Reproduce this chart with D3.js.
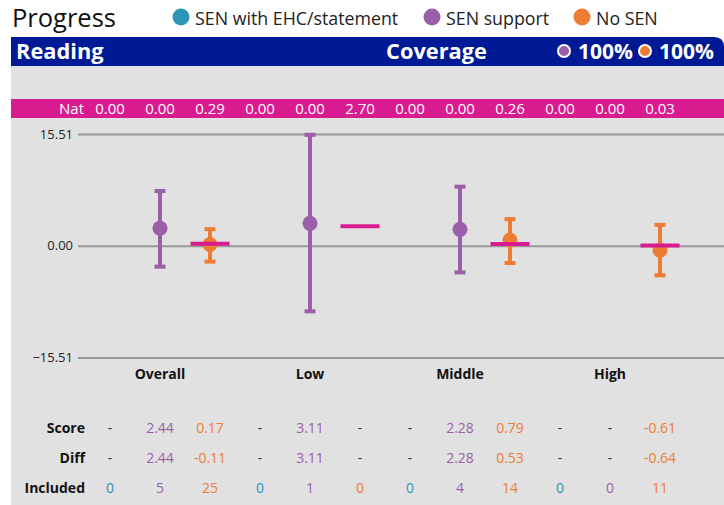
<!DOCTYPE html>
<html>
<head>
<meta charset="utf-8">
<script src="https://cdn.jsdelivr.net/npm/d3@7"></script>
<style>
  body { margin: 0; background: #fff; font-family: "Open Sans", sans-serif; }
</style>
</head>
<body>
<div id="chart"></div>
<script>
// groupes (colonnes) et séries
const groups = ["Overall", "Low", "Middle", "High"]
const series = ["SEN with EHC/statement", "SEN support", "No SEN"]
const colors = ["#2b96b8", "#9b5ea8", "#ef7c34"]

// valeurs nationales, une par colonne (groupe x série)
const natValues = [0.00, 0.00, 0.29, 0.00, 0.00, 2.70, 0.00, 0.00, 0.26, 0.00, 0.00, 0.03]

// score, intervalle (bas, haut) ; null = pas de donnée
const scores = [
  [null, 2.44, 0.17],
  [null, 3.11, null],
  [null, 2.28, 0.79],
  [null, null, -0.61]
]
const lower = [
  [null, -2.9, -2.2],
  [null, -9.1, null],
  [null, -3.7, -2.4],
  [null, null, -4.1]
]
const upper = [
  [null, 7.6, 2.3],
  [null, 15.4, null],
  [null, 8.2, 3.7],
  [null, null, 2.9]
]
const diffs = [
  [null, 2.44, -0.11],
  [null, 3.11, null],
  [null, 2.28, 0.53],
  [null, null, -0.64]
]
const included = [
  [0, 5, 25],
  [0, 1, 0],
  [0, 4, 14],
  [0, 0, 11]
]
const yTicks = [-15.51, 0, 15.51]
const coverage = ["100%", "100%"]

const W = 724, H = 505

const svg = d3.select("#chart").append("svg")
  .attr("width", W)
  .attr("height", H)
  .style("font-family", "'Open Sans', sans-serif")

/* titre + légende */
svg.append("text").attr("x", 12).attr("y", 27)
  .attr("font-size", 25.5).attr("fill", "#111").text("Progress")

const legX = [181, 432, 582]
series.forEach((s, i) => {
  svg.append("circle").attr("cx", legX[i]).attr("cy", 17).attr("r", 8.5).attr("fill", colors[i])
  svg.append("text").attr("x", legX[i] + 14).attr("y", 24.5)
    .attr("font-size", 17.8).attr("fill", "#222").text(s)
})

/* fond gris */
svg.append("rect").attr("x", 11).attr("y", 60).attr("width", W - 11).attr("height", H - 60)
  .attr("fill", "#e1e1e1")

/* bandeau bleu */
svg.append("path")
  .attr("d", `M11,37 H${W - 10} Q${W},37 ${W},47 V66 H11 Z`)
  .attr("fill", "#001a96")
svg.append("text").attr("x", 16).attr("y", 58.5).attr("font-size", 21.8).attr("font-weight", "bold")
  .attr("fill", "#fff").text("Reading")
svg.append("text").attr("x", 386).attr("y", 58.5).attr("font-size", 21.8).attr("font-weight", "bold")
  .attr("fill", "#fff").text("Coverage")
const covX = [564, 645]
coverage.forEach((c, i) => {
  svg.append("circle").attr("cx", covX[i]).attr("cy", 51).attr("r", 6)
    .attr("fill", colors[i + 1]).attr("stroke", "#fff").attr("stroke-width", 2)
  svg.append("text").attr("x", covX[i] + 14).attr("y", 58.5).attr("font-size", 21)
    .attr("font-weight", "bold").attr("fill", "#fff").text(c)
})

/* échelles */
const xGroup = d3.scaleBand().domain(groups).range([85, 685])
const xSeries = d3.scaleBand().domain(series).range([0, xGroup.bandwidth()])
const colX = (gi, si) => xGroup(groups[gi]) + xSeries(series[si]) + xSeries.bandwidth() / 2

const y = d3.scaleLinear().domain([-15.51, 15.51]).range([357.5, 134])

/* barre "Nat" */
svg.append("rect").attr("x", 11).attr("y", 99).attr("width", W - 11).attr("height", 19)
  .attr("fill", "#d81b8f")
svg.append("text").attr("x", 84).attr("y", 114).attr("text-anchor", "end")
  .attr("font-size", 15).attr("fill", "#fff").text("Nat")
svg.append("g").selectAll("text")
  .data(natValues)
  .join("text")
  .attr("x", (d, i) => colX(Math.floor(i / 3), i % 3))
  .attr("y", 114)
  .attr("text-anchor", "middle")
  .attr("font-size", 15)
  .attr("fill", "#fff")
  .text(d => d.toFixed(2))

/* axe + grille */
const yAxis = svg.append("g")
  .attr("transform", "translate(78,0)")
  .call(d3.axisLeft(y).tickValues(yTicks).tickSize(-(W - 78)).tickPadding(5).tickFormat(d3.format(".2f")))
yAxis.select(".domain").remove()
yAxis.selectAll(".tick line").attr("stroke", "#999").attr("stroke-width", 2)
yAxis.selectAll(".tick text").attr("font-size", 13).attr("fill", "#222")
  .attr("font-family", "'Open Sans', sans-serif")

/* points avec barres d'erreur */
const pts = []
groups.forEach((g, gi) => series.forEach((s, si) => {
  if (scores[gi][si] !== null) pts.push({gi, si, v: scores[gi][si], lo: lower[gi][si], hi: upper[gi][si]})
}))

const pg = svg.append("g")
pts.forEach(p => {
  const cx = colX(p.gi, p.si), c = colors[p.si]
  pg.append("line").attr("x1", cx).attr("x2", cx).attr("y1", y(p.hi)).attr("y2", y(p.lo))
    .attr("stroke", c).attr("stroke-width", 4)
  pg.append("line").attr("x1", cx - 5.5).attr("x2", cx + 5.5).attr("y1", y(p.hi)).attr("y2", y(p.hi))
    .attr("stroke", c).attr("stroke-width", 4)
  pg.append("line").attr("x1", cx - 5.5).attr("x2", cx + 5.5).attr("y1", y(p.lo)).attr("y2", y(p.lo))
    .attr("stroke", c).attr("stroke-width", 4)
  pg.append("circle").attr("cx", cx).attr("cy", y(p.v)).attr("r", 7.5).attr("fill", c)
})

/* lignes nationales (seulement pour les colonnes avec valeur non nulle) */
svg.append("g").selectAll("line")
  .data(natValues.map((v, i) => ({v, gi: Math.floor(i / 3), si: i % 3})).filter(d => d.v !== 0))
  .join("line")
  .attr("x1", d => colX(d.gi, d.si) - 19.5)
  .attr("x2", d => colX(d.gi, d.si) + 19.5)
  .attr("y1", d => y(d.v))
  .attr("y2", d => y(d.v))
  .attr("stroke", "#d81b8f")
  .attr("stroke-width", 4)

/* étiquettes des groupes */
svg.append("g").selectAll("text")
  .data(groups)
  .join("text")
  .attr("x", d => xGroup(d) + xGroup.bandwidth() / 2)
  .attr("y", 379)
  .attr("text-anchor", "middle")
  .attr("font-size", 14)
  .attr("font-weight", "bold")
  .attr("fill", "#111")
  .text(d => d)

/* tableau */
const rows = [
  {label: "Score", vals: scores, fmt: v => v.toFixed(2), y: 433},
  {label: "Diff", vals: diffs, fmt: v => v.toFixed(2), y: 463},
  {label: "Included", vals: included, fmt: v => String(v), y: 493}
]
rows.forEach(r => {
  svg.append("text").attr("x", 85).attr("y", r.y).attr("text-anchor", "end")
    .attr("font-size", 14).attr("font-weight", "bold").attr("fill", "#111").text(r.label)
  groups.forEach((g, gi) => series.forEach((s, si) => {
    const v = r.vals[gi][si]
    svg.append("text").attr("x", colX(gi, si)).attr("y", r.y).attr("text-anchor", "middle")
      .attr("font-size", 14)
      .attr("fill", v === null ? "#333" : colors[si])
      .text(v === null ? "-" : r.fmt(v))
  }))
})
</script>
</body>
</html>
